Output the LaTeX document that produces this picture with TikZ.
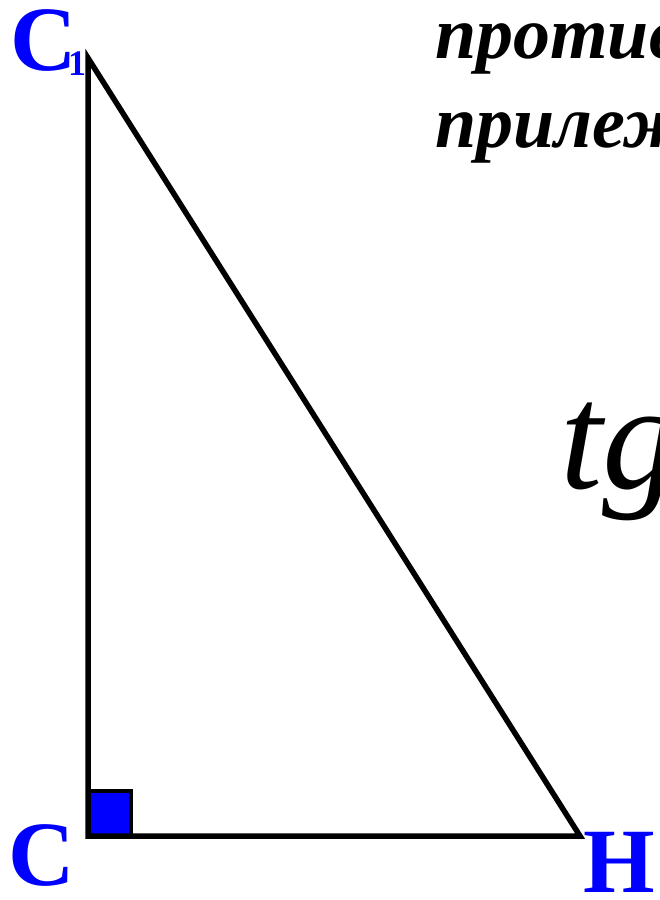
\documentclass[tikz,border=0pt]{standalone}
\usepackage{fontspec}
\setmainfont{Liberation Serif}
\begin{document}
\begin{tikzpicture}[x=1pt,y=-1pt,
  vlabel/.style={text=blue,font=\fontsize{92}{92}\selectfont\bfseries,inner sep=0pt,anchor=base west},
  sublabel/.style={text=blue,font=\fontsize{36}{36}\selectfont\bfseries,inner sep=0pt,anchor=base west},
  ruword/.style={font=\fontsize{74}{74}\selectfont\bfseries\itshape,inner sep=0pt,anchor=base west},
  tgtext/.style={font=\fontsize{152}{152}\selectfont\itshape,inner sep=0pt,anchor=base west},
  side/.style={line width=5.5pt,line join=miter}]
\useasboundingbox (0,0) rectangle (659,900);
\clip (0,0) rectangle (659,900);
\fill[white] (0,0) rectangle (659,900);
\coordinate (C1) at (88,58);
\coordinate (C) at (88,836);
\coordinate (H) at (580,836);
\draw[fill=blue,line width=3.5pt] (88,791) rectangle (131,836);
\draw[side] (C1) -- (C) -- (H) -- cycle;
\node[vlabel] (lC1) at (10,70) {C};
\node[sublabel] (lsub) at (68,75) {1};
\node[vlabel] (lC) at (8,885) {C};
\node[vlabel] (lH) at (583,892) {H};
\node[ruword] (w1) at (435,58) {противолежащий};
\node[ruword] (w2) at (435,147) {прилежащий};
\node[tgtext] (tg) at (560,488) {tg};
\end{tikzpicture}
\end{document}
